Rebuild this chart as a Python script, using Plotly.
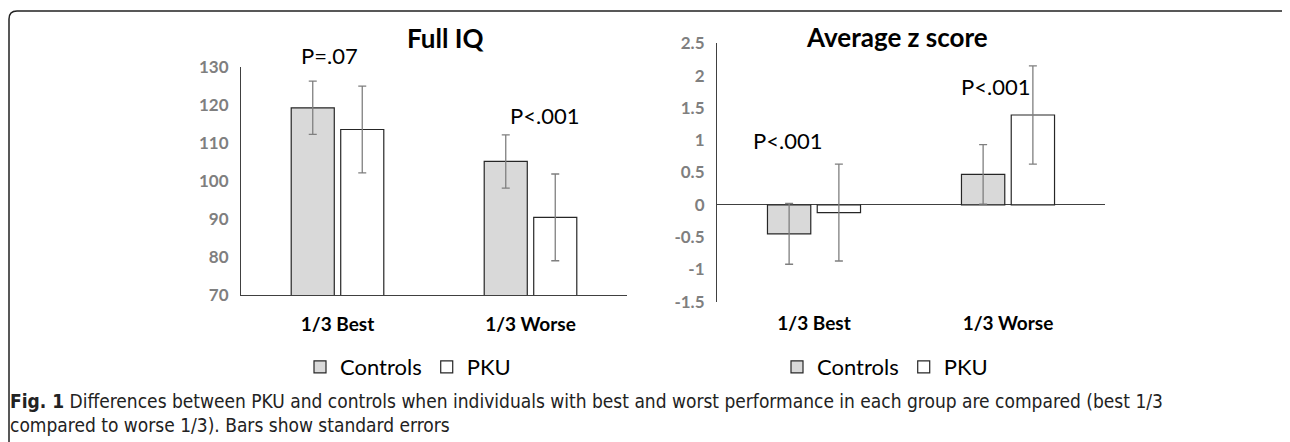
import plotly.graph_objects as go

# the page body has an 8px margin, so the figure is drawn 8px in from the corner
OFF = 8
W, H = 1290 - OFF, 442 - OFF

categories = ["1/3 Best", "1/3 Worse"]

iq_controls = [119.2, 105.1]
iq_controls_se = [7.0, 7.0]
iq_pku = [113.5, 90.4]
iq_pku_se = [11.4, 11.4]

z_controls = [-0.45, 0.47]
z_controls_se = [0.47, 0.46]
z_pku = [-0.12, 1.39]
z_pku_se = [0.75, 0.76]

iq_ticks = [70, 80, 90, 100, 110, 120, 130]
z_ticks = [-1.5, -1, -0.5, 0, 0.5, 1, 1.5, 2, 2.5]
z_ticktext = ["-1.5", "-1", "-0.5", "0", "0.5", "1", "1.5", "2", "2.5"]

FONT = "Lato, Carlito, 'Open Sans', sans-serif"
CAPTION_FONT = "'DejaVu Sans Condensed', sans-serif"
GREY_FILL = "#d9d9d9"
OUTLINE = "#262626"
ERR = dict(type="data", color="#7f7f7f", thickness=1.3, width=4)


def px(x):
    return (x - OFF) / W


def py(y):
    return 1 - (y - OFF) / H


def bar(name, vals, se, fill, xa, ya, legend):
    return go.Bar(
        name=name,
        x=categories,
        y=vals,
        error_y=dict(array=se, **ERR),
        marker=dict(color=fill, line=dict(color=OUTLINE, width=1.2)),
        xaxis=xa,
        yaxis=ya,
        legend=legend,
    )


fig = go.Figure()
fig.add_trace(bar("Controls", iq_controls, iq_controls_se, GREY_FILL, "x", "y", "legend"))
fig.add_trace(bar("PKU", iq_pku, iq_pku_se, "white", "x", "y", "legend"))
fig.add_trace(bar("Controls", z_controls, z_controls_se, GREY_FILL, "x2", "y2", "legend2"))
fig.add_trace(bar("PKU", z_pku, z_pku_se, "white", "x2", "y2", "legend2"))

xcommon = dict(
    showgrid=False, zeroline=False, ticks="", automargin=False,
    tickfont=dict(family=FONT, size=19, color="black", weight="bold"),
)
ycommon = dict(
    showgrid=False, showline=True, linecolor="#404040", linewidth=1.2, ticks="",
    automargin=False,
    tickfont=dict(family=FONT, size=17, color="#7f7f7f", weight="bold"),
    ticklabelstandoff=8,
)

legend_common = dict(
    orientation="h", xanchor="left", yanchor="middle",
    font=dict(family=FONT, size=22, color="black"),
    bgcolor="rgba(0,0,0,0)", itemwidth=30,
)

fig.update_layout(
    width=W, height=H,
    margin=dict(l=0, r=0, t=0, b=0, pad=0),
    paper_bgcolor="white", plot_bgcolor="white",
    barmode="group", bargap=0.487, bargroupgap=0.13,
    showlegend=True,
    xaxis=dict(domain=[px(241), px(627)], showline=True, linecolor="#404040",
               linewidth=1.2, ticklabelstandoff=12, **xcommon),
    yaxis=dict(domain=[py(295), py(66.7)], range=[70, 130], tickvals=iq_ticks, **ycommon),
    xaxis2=dict(domain=[px(717), px(1105)], showline=False, anchor="y2",
                ticklabelstandoff=8, **xcommon),
    yaxis2=dict(domain=[py(301.7), py(43.3)], range=[-1.5, 2.5], anchor="x2",
                tickvals=z_ticks, ticktext=z_ticktext,
                zeroline=True, zerolinecolor="#404040", zerolinewidth=1.2, **ycommon),
    legend=dict(x=px(300), y=py(367), **legend_common),
    legend2=dict(x=px(777), y=py(367), **legend_common),
)

# titles and p-values
texts = [
    ("Full IQ", 445, 38, 26, "bold"),
    ("Average z score", 897, 37, 26, "bold"),
    ("P=.07", 330, 55, 22, "normal"),
    ("P<.001", 544, 115, 22, "normal"),
    ("P<.001", 787, 141, 22, "normal"),
    ("P<.001", 995, 87, 22, "normal"),
]
for t, x, y, s, w in texts:
    fig.add_annotation(text=t, x=px(x), y=py(y), xref="paper", yref="paper",
                       xanchor="center", yanchor="middle", showarrow=False,
                       font=dict(family=FONT, size=s, color="black", weight=w))

caption = [
    "<b>Fig. 1</b> Differences between PKU and controls when individuals with best and "
    "worst performance in each group are compared (best 1/3",
    "compared to worse 1/3). Bars show standard errors",
]
for i, line in enumerate(caption):
    fig.add_annotation(text=line, x=px(8), y=py(401 + 24 * i), xref="paper", yref="paper",
                       xanchor="left", yanchor="middle", showarrow=False,
                       font=dict(family=CAPTION_FONT, size=19, color="#222222"))

# rounded frame around the figure
fig.add_shape(
    type="path", xref="paper", yref="paper",
    path=f"M {px(9)} {py(460)} L {px(9)} {py(19)} Q {px(9)} {py(11)} {px(17)} {py(11)} "
         f"L {px(1282)} {py(11)} Q {px(1288)} {py(11)} {px(1289)} {py(16)}",
    line=dict(color="#222222", width=1.5),
)

fig.write_html("out.html")
